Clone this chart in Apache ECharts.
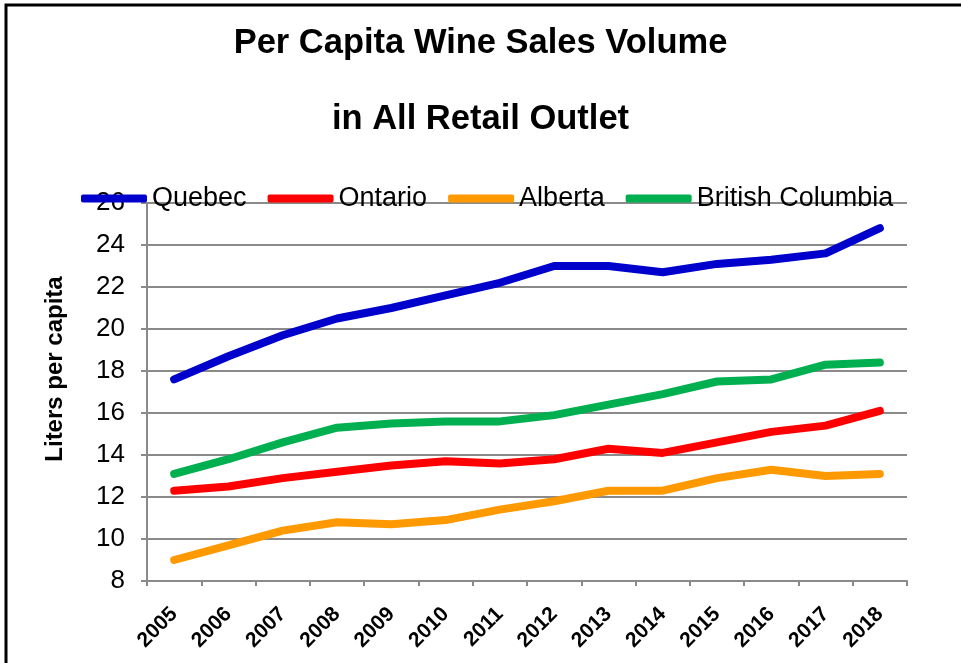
<!DOCTYPE html>
<html>
<head>
<meta charset="utf-8">
<script src="https://cdn.jsdelivr.net/npm/echarts@6/dist/echarts.min.js"></script>
<style>
  html, body { margin: 0; padding: 0; background: #fff; }
  #chart { width: 961px; height: 663px; }
</style>
</head>
<body>
<div id="chart"></div>
<script>
const years = ['2005','2006','2007','2008','2009','2010','2011','2012','2013','2014','2015','2016','2017','2018'];
const quebec  = [17.6, 18.7, 19.7, 20.5, 21.0, 21.6, 22.2, 23.0, 23.0, 22.7, 23.1, 23.3, 23.6, 24.8];
const ontario = [12.3, 12.5, 12.9, 13.2, 13.5, 13.7, 13.6, 13.8, 14.3, 14.1, 14.6, 15.1, 15.4, 16.1];
const alberta = [9.0, 9.7, 10.4, 10.8, 10.7, 10.9, 11.4, 11.8, 12.3, 12.3, 12.9, 13.3, 13.0, 13.1];
const bc      = [13.1, 13.8, 14.6, 15.3, 15.5, 15.6, 15.6, 15.9, 16.4, 16.9, 17.5, 17.6, 18.3, 18.4];
const seriesNames = ['Quebec', 'Ontario', 'Alberta', 'British Columbia'];
const seriesColors = ['#0000CC', '#FF0000', '#FF9900', '#00B050'];
const seriesData = [quebec, ontario, alberta, bc];
const titleLines = ['Per Capita Wine Sales Volume', 'in All Retail Outlet'];
const yName = 'Liters per capita';

const chart = echarts.init(document.getElementById('chart'));
const font = 'Liberation Sans, Arial, sans-serif';

chart.setOption({
  animation: false,
  backgroundColor: '#ffffff',
  graphic: [{
    type: 'rect',
    shape: { x: 6, y: 5, width: 2000, height: 2000 },
    style: { fill: 'none', stroke: '#000', lineWidth: 3 },
    silent: true
  }],
  title: [
    { text: titleLines[0], left: 'center', top: 26, padding: [0, 0, 0, 6],
      textStyle: { fontFamily: font, fontSize: 34.5, fontWeight: 'bold', color: '#000' } },
    { text: titleLines[1], left: 'center', top: 102, padding: [0, 0, 0, 6],
      textStyle: { fontFamily: font, fontSize: 34.5, fontWeight: 'bold', color: '#000' } }
  ],
  legend: {
    data: seriesNames,
    left: 76, top: 180,
    itemWidth: 66, itemHeight: 8, itemGap: 21,
    icon: 'roundRect',
    textStyle: { fontFamily: font, fontSize: 27, color: '#000', padding: [0, 0, 0, 0] }
  },
  grid: { left: 147, right: 54, top: 203, bottom: 82 },
  xAxis: {
    type: 'category',
    data: years,
    boundaryGap: true,
    axisLine: { lineStyle: { color: '#8a8a8a', width: 2 } },
    axisTick: { show: true, length: 5, lineStyle: { color: '#8a8a8a', width: 2 } },
    axisLabel: { rotate: 45, margin: 30, fontFamily: font, fontSize: 21, fontWeight: 'bold', color: '#000' }
  },
  yAxis: {
    type: 'value',
    min: 8, max: 26, interval: 2,
    name: yName,
    nameLocation: 'middle',
    nameGap: 80,
    nameTextStyle: { fontFamily: font, fontSize: 24, fontWeight: 'bold', color: '#000', padding: [0, 0, 0, 46] },
    axisLine: { show: true, lineStyle: { color: '#8a8a8a', width: 2 } },
    axisTick: { show: true, length: 6, lineStyle: { color: '#8a8a8a', width: 2 } },
    axisLabel: { margin: 22, fontFamily: font, fontSize: 26, color: '#000' },
    splitLine: { show: true, lineStyle: { color: '#8a8a8a', width: 2 } }
  },
  series: seriesNames.map((n, i) => ({
    name: n,
    type: 'line',
    data: seriesData[i],
    showSymbol: false,
    symbol: 'none',
    color: seriesColors[i],
    lineStyle: { color: seriesColors[i], width: 8, cap: 'round', join: 'round' }
  }))
});
</script>
</body>
</html>
